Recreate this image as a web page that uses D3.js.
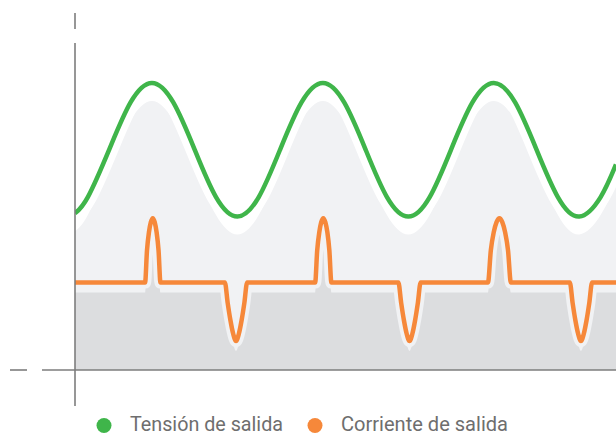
<!DOCTYPE html>
<html><head><meta charset="utf-8">
<script src="https://cdn.jsdelivr.net/npm/d3@7"></script>
<style>body{margin:0;background:#fff}svg{display:block}</style>
</head><body>
<script>
// Time in ms, values in arbitrary units (0 = x axis)
const voltageT = [0, 1.5, 4, 6.5, 9, 11.5, 14, 16.5, 19, 21.5, 24, 26.5, 29, 31.5, 34, 36.5, 39, 41.5, 44, 46.5, 49, 51.5, 54, 56.5, 59, 61.5, 63.3];
const voltageV = [47.5, 52.4, 66.8, 81.1, 87, 81.1, 66.8, 52.4, 46.5, 52.4, 66.8, 81.1, 87, 81.1, 66.8, 52.4, 46.5, 52.4, 66.8, 81.1, 87, 81.1, 66.8, 52.4, 46.5, 52.4, 62.3];

const currentT = [0,
  8.2, 8.425, 8.65, 8.875, 9.1, 9.325, 9.55, 9.775, 10.0,
  17.54, 17.865, 18.19, 18.515, 18.84, 19.165, 19.49, 19.815, 20.14,
  28.1, 28.34, 28.58, 28.81, 29.05, 29.29, 29.53, 29.76, 30.0,
  37.84, 38.165, 38.49, 38.815, 39.14, 39.465, 39.79, 40.115, 40.44,
  48.32, 48.655, 48.99, 49.325, 49.66, 49.995, 50.33, 50.665, 51.0,
  57.9, 58.225, 58.55, 58.875, 59.2, 59.525, 59.85, 60.175, 60.5,
  63.3];
const currentV = [26.5,
  26.5, 36.3, 41.7, 44.8, 46, 44.8, 41.7, 36.3, 26.5,
  26.5, 20.3, 15.0, 10.9, 8.8, 10.9, 15.0, 20.3, 26.5,
  26.5, 36.3, 41.7, 44.8, 46, 44.8, 41.7, 36.3, 26.5,
  26.5, 20.3, 15.0, 10.9, 8.8, 10.9, 15.0, 20.3, 26.5,
  26.5, 36.3, 41.7, 44.8, 46, 44.8, 41.7, 36.3, 26.5,
  26.5, 20.3, 15.0, 10.9, 8.8, 10.9, 15.0, 20.3, 26.5,
  26.5];

const legendLabels = ["Tensión de salida", "Corriente de salida"];
const legendColors = ["#3fb54a", "#f6883a"];

const W = 616, H = 435;
const svg = d3.select("body").append("svg").attr("width", W).attr("height", H);

const x = d3.scaleLinear().domain([0, 63.3]).range([75, 616]);
const y = d3.scaleLinear().domain([0, 100]).range([370, 40]);

const volt = voltageT.map((t, i) => [t, voltageV[i]]);
const curr = currentT.map((t, i) => [t, currentV[i]]);

const vLine = d3.line().x(d => x(d[0])).y(d => y(d[1])).curve(d3.curveNatural);
const vArea = d3.area().x(d => x(d[0])).y0(y(0)).y1(d => y(d[1])).curve(d3.curveNatural);
const cLine = d3.line().x(d => x(d[0])).y(d => y(d[1])).curve(d3.curveMonotoneX);
const cArea = d3.area().x(d => x(d[0])).y0(y(0)).y1(d => y(d[1])).curve(d3.curveMonotoneX);

const plot = svg.append("g");
plot.append("clipPath").attr("id", "clip").append("rect")
  .attr("x", x(0)).attr("y", 0).attr("width", W - x(0)).attr("height", y(0));
const g = plot.append("g").attr("clip-path", "url(#clip)");

// light shadow under voltage
g.append("path").attr("d", vArea(volt)).attr("transform", "translate(0,18)").attr("fill", "#f1f2f4");
g.append("path").attr("d", vLine(volt)).attr("fill", "none").attr("stroke", "#fff").attr("stroke-width", 18).attr("stroke-linejoin", "round");
// dark shadow under current
g.append("path").attr("d", cArea(curr)).attr("transform", "translate(0,10)").attr("fill", "#dcdddf");
g.append("path").attr("d", cLine(curr)).attr("fill", "none").attr("stroke", "#f1f2f4").attr("stroke-width", 12).attr("stroke-linejoin", "round");
// lines
g.append("path").attr("d", vLine(volt)).attr("fill", "none").attr("stroke", legendColors[0]).attr("stroke-width", 4.5);
g.append("path").attr("d", cLine(curr)).attr("fill", "none").attr("stroke", legendColors[1]).attr("stroke-width", 4.5).attr("stroke-linejoin", "round");

// axes
const axisColor = "#7d7d7d";
svg.append("line").attr("x1", x(0)).attr("x2", x(0)).attr("y1", 13).attr("y2", 29)
  .attr("stroke", axisColor).attr("stroke-width", 1.6);
svg.append("line").attr("x1", x(0)).attr("x2", x(0)).attr("y1", 43).attr("y2", 406)
  .attr("stroke", axisColor).attr("stroke-width", 1.6);
svg.append("line").attr("x1", 10).attr("x2", 27).attr("y1", y(0)).attr("y2", y(0))
  .attr("stroke", axisColor).attr("stroke-width", 1.6);
svg.append("line").attr("x1", 42).attr("x2", 616).attr("y1", y(0)).attr("y2", y(0))
  .attr("stroke", axisColor).attr("stroke-width", 1.6);

// legend
const legX = [104, 315], legW = [153, 167];
const leg = svg.append("g");
legendLabels.forEach((lab, i) => {
  leg.append("circle").attr("cx", legX[i]).attr("cy", 425.5).attr("r", 7.5).attr("fill", legendColors[i]);
  leg.append("text").attr("x", legX[i] + 26).attr("y", 431)
    .attr("font-family", "Roboto, sans-serif").attr("font-size", 19.5)
    .attr("fill", "#6e6e6e")
    .attr("textLength", legW[i]).attr("lengthAdjust", "spacingAndGlyphs")
    .text(lab);
});
</script>
</body></html>
